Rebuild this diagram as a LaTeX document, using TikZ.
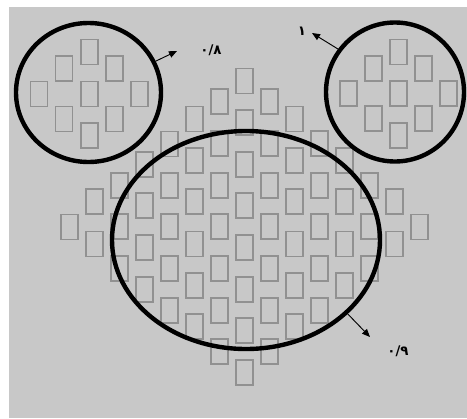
\documentclass[tikz,border=0pt]{standalone}
\usepackage{fontspec}
\usetikzlibrary{shapes.geometric,arrows.meta}
\newfontfamily\arabicfont[Script=Arabic]{DejaVu Sans}
\definecolor{bggray}{RGB}{200,200,200}
\definecolor{boxgray}{RGB}{145,145,145}
\begin{document}
\begin{tikzpicture}[x=0.75pt,y=-0.75pt,
  rbox/.style={draw=boxgray,line width=0.85pt,minimum width=12.75pt,minimum height=18.75pt,inner sep=0pt},
  ring/.style={draw=black,line width=3.3pt,ellipse,inner sep=0pt},
  arr/.style={draw=black,line width=0.7pt,-{Triangle[length=6pt,width=5pt]}},
  lab/.style={inner sep=0pt,font=\arabicfont\bfseries\fontsize{10}{11}\selectfont}]
\useasboundingbox (0,0) rectangle (467,418);
\fill[white] (0,0) rectangle (467,418);
\fill[bggray] (9,7) rectangle (467,418);
% main diamond of boxes
\foreach \y [count=\k] in {227} {\node[rbox] (ra-\k) at (69.5,\y) {};}
\foreach \y [count=\k] in {201.5,244} {\node[rbox] (rb-\k) at (94.5,\y) {};}
\foreach \y [count=\k] in {185.5,226.5,268.5} {\node[rbox] (rc-\k) at (119.5,\y) {};}
\foreach \y [count=\k] in {164.5,205.5,247.5,289.5} {\node[rbox] (rd-\k) at (144.5,\y) {};}
\foreach \y [count=\k] in {144,185.5,226.5,268.5,310.5} {\node[rbox] (re-\k) at (169.5,\y) {};}
\foreach \y [count=\k] in {119,160.5,201.5,244,285.5,326.5} {\node[rbox] (rf-\k) at (194.5,\y) {};}
\foreach \y [count=\k] in {101.5,143.5,185.5,226.5,268.5,310.5,351.5} {\node[rbox] (rg-\k) at (219.5,\y) {};}
\foreach \y [count=\k] in {81,122.5,164.5,205.5,247.5,289.5,330.5,372.5} {\node[rbox] (rh-\k) at (244.5,\y) {};}
\foreach \y [count=\k] in {101.5,143.5,185.5,226.5,268.5,310.5,351.5} {\node[rbox] (ri-\k) at (269.5,\y) {};}
\foreach \y [count=\k] in {119,160.5,201.5,244,285.5,326.5} {\node[rbox] (rj-\k) at (294.5,\y) {};}
\foreach \y [count=\k] in {143.5,185.5,226.5,268.5,310.5} {\node[rbox] (rk-\k) at (319.5,\y) {};}
\foreach \y [count=\k] in {160.5,201.5,244,285.5} {\node[rbox] (rl-\k) at (344.5,\y) {};}
\foreach \y [count=\k] in {185.5,226.5,268.5} {\node[rbox] (rm-\k) at (369.5,\y) {};}
\foreach \y [count=\k] in {201.5,244} {\node[rbox] (rn-\k) at (394.5,\y) {};}
\foreach \y [count=\k] in {227} {\node[rbox] (ro-\k) at (419.5,\y) {};}
% boxes in the left circle
\foreach \x/\y [count=\k] in {89.5/52,64/68.5,114.5/68.5,39/94,89.5/94,139.5/94,64/119,114.5/119,89.5/135.5}
  {\node[rbox] (lb-\k) at (\x,\y) {};}
% boxes in the right circle
\foreach \x/\y [count=\k] in {398.5/52,373.5/68.5,423.5/68.5,348.5/93.5,398.5/93.5,448.5/93.5,373.5/118.5,423.5/118.5,398.5/135.5}
  {\node[rbox] (rr-\k) at (\x,\y) {};}
% circles
\node[ring,minimum width=108.75pt,minimum height=104.25pt] (lc) at (88.5,92.5) {};
\node[ring,minimum width=103.5pt,minimum height=104.25pt] (rc) at (395,92) {};
\node[ring,minimum width=201pt,minimum height=163.5pt] (bc) at (246,240) {};
% labels
\node[lab] (l1) at (211,50) {٠/٨};
\node[lab] (l2) at (302,31) {١};
\node[lab] (l3) at (398,351) {٠/٩};
\coordinate (a1) at (177,51);
\coordinate (a2) at (312,33);
\coordinate (a3) at (370,337);
\draw[arr] (lc.25) -- (a1);
\draw[arr] (rc.143) -- (a2);
\draw[arr] (bc.-36) -- (a3);
\end{tikzpicture}
\end{document}
